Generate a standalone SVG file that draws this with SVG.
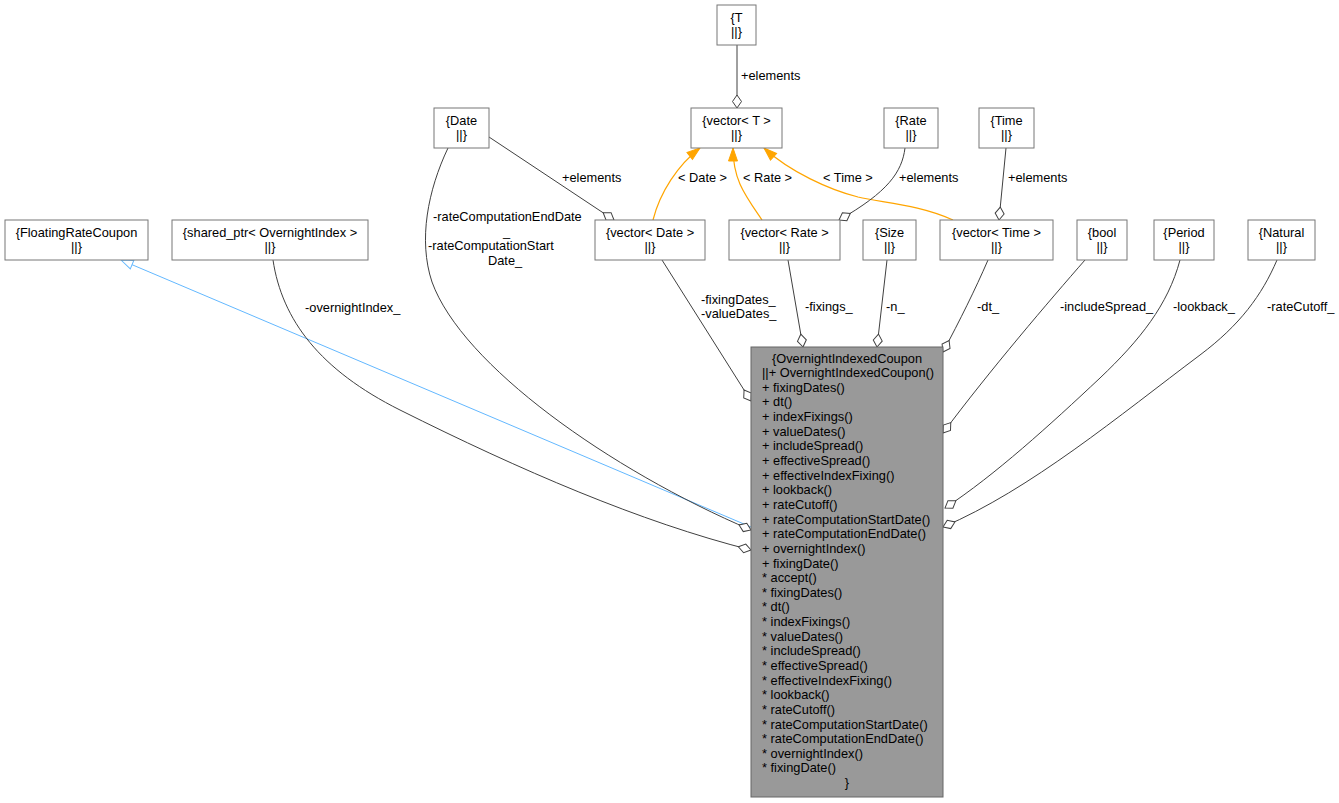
<svg xmlns="http://www.w3.org/2000/svg" width="1339" height="803" viewBox="0 0 1339 803">
<style>
text{font-family:"Liberation Sans",Arial,Helvetica,sans-serif;font-size:12.8px;fill:#000}
.box{fill:#fff;stroke:#777;stroke-width:1}
.main{fill:#999;stroke:#666;stroke-width:1}
.c{text-anchor:middle}
.e{fill:none;stroke:#404040;stroke-width:1}
.o{fill:none;stroke:#FFA500;stroke-width:1.2}
.b{fill:none;stroke:#63B8FF;stroke-width:1}
</style>
<defs>
<marker id="dia" markerUnits="userSpaceOnUse" viewBox="-14 -6 16 12" refX="0" refY="0" markerWidth="16" markerHeight="12" orient="auto"><path d="M0,0 L-6.5,-4.5 L-13,0 L-6.5,4.5 Z" fill="#fff" stroke="#404040" stroke-width="1"/></marker>
<marker id="arr" markerUnits="userSpaceOnUse" viewBox="-14 -6 16 12" refX="0" refY="0" markerWidth="16" markerHeight="12" orient="auto"><path d="M0,0 L-13,-4.5 L-13,4.5 Z" fill="#FFA500" stroke="#FFA500" stroke-width="1"/></marker>
<marker id="tri" markerUnits="userSpaceOnUse" viewBox="-14 -6 16 12" refX="0" refY="0" markerWidth="16" markerHeight="12" orient="auto"><path d="M0,0 L-12,-4.5 L-12,4.5 Z" fill="#fff" stroke="#63B8FF" stroke-width="1"/></marker>
</defs>
<g id="edges">
<path class="e" d="M737,45 L737,108" marker-end="url(#dia)"/>
<text x="741" y="80">+elements</text>
<path class="o" d="M653,220 C660,192 678,165 700,148" marker-end="url(#arr)"/>
<text x="678" y="182">&lt; Date &gt;</text>
<path class="o" d="M762,220 C745,195 733,180 733,148" marker-end="url(#arr)"/>
<text x="743" y="182">&lt; Rate &gt;</text>
<path class="o" d="M953,220 C920,205 885,203 858,197 C830,190 790,172 764,148" marker-end="url(#arr)"/>
<text x="823" y="182">&lt; Time &gt;</text>
<path class="e" d="M489,137 L614,220" marker-end="url(#dia)"/>
<text x="562" y="182">+elements</text>
<path class="e" d="M905,148 C902,172 888,192 839,220" marker-end="url(#dia)"/>
<text x="899" y="182">+elements</text>
<path class="e" d="M1006,148 L999,220" marker-end="url(#dia)"/>
<text x="1008" y="182">+elements</text>
<path class="b" d="M751,527 L121,260" marker-end="url(#tri)"/>
<path class="e" d="M448,148 C428,190 418,240 432,282 C462,365 610,470 751,530" marker-end="url(#dia)"/>
<text x="433" y="221">-rateComputationEndDate</text>
<text x="503" y="235.5">_</text>
<text x="428" y="250">-rateComputationStart</text>
<text x="488" y="264.5">Date_</text>
<path class="e" d="M273,260 C282,320 320,370 400,410 C520,470 640,522 751,550" marker-end="url(#dia)"/>
<text x="305" y="312">-overnightIndex_</text>
<path class="e" d="M662,260 L751,401" marker-end="url(#dia)"/>
<text x="701" y="304">-fixingDates_</text>
<text x="701" y="318">-valueDates_</text>
<path class="e" d="M788,260 L803,347" marker-end="url(#dia)"/>
<text x="805" y="311">-fixings_</text>
<path class="e" d="M887,260 L877,347" marker-end="url(#dia)"/>
<text x="886" y="311">-n_</text>
<path class="e" d="M988,260 C975,290 960,320 943,352" marker-end="url(#dia)"/>
<text x="977" y="311">-dt_</text>
<path class="e" d="M1085,260 C1050,300 990,370 943,433" marker-end="url(#dia)"/>
<text x="1060" y="311">-includeSpread_</text>
<path class="e" d="M1180,260 C1168,305 1140,340 1100,378 C1050,425 995,475 945,508" marker-end="url(#dia)"/>
<text x="1173" y="311">-lookback_</text>
<path class="e" d="M1277,260 C1262,295 1240,325 1200,355 C1120,415 1030,490 943,527" marker-end="url(#dia)"/>
<text x="1267" y="311">-rateCutoff_</text>
</g>
<g id="node-T"><rect class="box" x="717" y="5" width="39" height="40"/><text class="c" x="736.5" y="21.5">{T</text><text class="c" x="736.5" y="36">||}</text></g>
<g id="node-vectorT"><rect class="box" x="691" y="108" width="91" height="40"/><text class="c" x="736.5" y="124.5">{vector&lt; T &gt;</text><text class="c" x="736.5" y="139">||}</text></g>
<g id="node-Date"><rect class="box" x="434" y="108" width="55" height="40"/><text class="c" x="461.5" y="124.5">{Date</text><text class="c" x="461.5" y="139">||}</text></g>
<g id="node-Rate"><rect class="box" x="884" y="108" width="54" height="40"/><text class="c" x="911" y="124.5">{Rate</text><text class="c" x="911" y="139">||}</text></g>
<g id="node-Time"><rect class="box" x="979" y="108" width="55" height="40"/><text class="c" x="1006.5" y="124.5">{Time</text><text class="c" x="1006.5" y="139">||}</text></g>
<g id="node-FloatingRateCoupon"><rect class="box" x="5" y="220" width="143" height="40"/><text class="c" x="76.5" y="236.5">{FloatingRateCoupon</text><text class="c" x="76.5" y="251">||}</text></g>
<g id="node-shared_ptr"><rect class="box" x="172" y="220" width="196" height="40"/><text class="c" x="270" y="236.5">{shared_ptr&lt; OvernightIndex &gt;</text><text class="c" x="270" y="251">||}</text></g>
<g id="node-vectorDate"><rect class="box" x="595" y="220" width="110" height="40"/><text class="c" x="650" y="236.5">{vector&lt; Date &gt;</text><text class="c" x="650" y="251">||}</text></g>
<g id="node-vectorRate"><rect class="box" x="729" y="220" width="111" height="40"/><text class="c" x="784.5" y="236.5">{vector&lt; Rate &gt;</text><text class="c" x="784.5" y="251">||}</text></g>
<g id="node-Size"><rect class="box" x="863" y="220" width="53" height="40"/><text class="c" x="889.5" y="236.5">{Size</text><text class="c" x="889.5" y="251">||}</text></g>
<g id="node-vectorTime"><rect class="box" x="940" y="220" width="113" height="40"/><text class="c" x="996.5" y="236.5">{vector&lt; Time &gt;</text><text class="c" x="996.5" y="251">||}</text></g>
<g id="node-bool"><rect class="box" x="1077" y="220" width="50" height="40"/><text class="c" x="1102" y="236.5">{bool</text><text class="c" x="1102" y="251">||}</text></g>
<g id="node-Period"><rect class="box" x="1154" y="220" width="60" height="40"/><text class="c" x="1184" y="236.5">{Period</text><text class="c" x="1184" y="251">||}</text></g>
<g id="node-Natural"><rect class="box" x="1248" y="220" width="67" height="40"/><text class="c" x="1281.5" y="236.5">{Natural</text><text class="c" x="1281.5" y="251">||}</text></g>
<g id="node-OvernightIndexedCoupon">
<rect class="main" x="751" y="347" width="192" height="450"/>
<text class="c" x="847" y="362.5">{OvernightIndexedCoupon</text>
<text x="762" y="377.1">||+ OvernightIndexedCoupon()</text>
<text x="762" y="391.8">+ fixingDates()</text>
<text x="762" y="406.4">+ dt()</text>
<text x="762" y="421.1">+ indexFixings()</text>
<text x="762" y="435.7">+ valueDates()</text>
<text x="762" y="450.3">+ includeSpread()</text>
<text x="762" y="465">+ effectiveSpread()</text>
<text x="762" y="479.6">+ effectiveIndexFixing()</text>
<text x="762" y="494.3">+ lookback()</text>
<text x="762" y="508.9">+ rateCutoff()</text>
<text x="762" y="523.5">+ rateComputationStartDate()</text>
<text x="762" y="538.2">+ rateComputationEndDate()</text>
<text x="762" y="552.8">+ overnightIndex()</text>
<text x="762" y="567.5">+ fixingDate()</text>
<text x="762" y="582.1">* accept()</text>
<text x="762" y="596.7">* fixingDates()</text>
<text x="762" y="611.4">* dt()</text>
<text x="762" y="626">* indexFixings()</text>
<text x="762" y="640.7">* valueDates()</text>
<text x="762" y="655.3">* includeSpread()</text>
<text x="762" y="669.9">* effectiveSpread()</text>
<text x="762" y="684.6">* effectiveIndexFixing()</text>
<text x="762" y="699.2">* lookback()</text>
<text x="762" y="713.9">* rateCutoff()</text>
<text x="762" y="728.5">* rateComputationStartDate()</text>
<text x="762" y="743.1">* rateComputationEndDate()</text>
<text x="762" y="757.8">* overnightIndex()</text>
<text x="762" y="772.4">* fixingDate()</text>
<text class="c" x="847" y="787">}</text>
</g>
</svg>
